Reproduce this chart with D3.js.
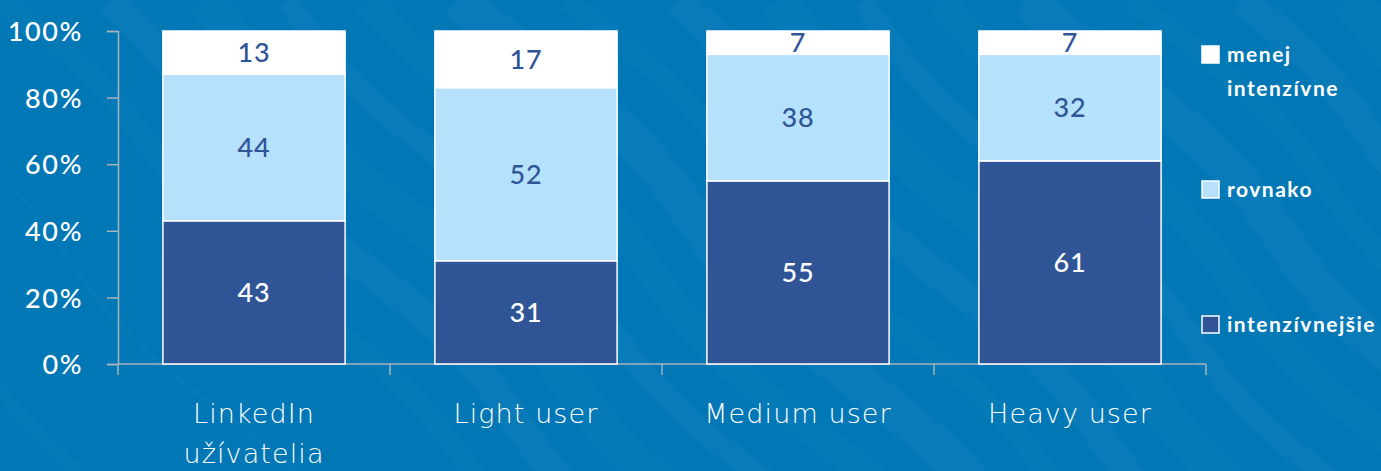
<!DOCTYPE html>
<html>
<head>
<meta charset="utf-8">
<script src="https://cdn.jsdelivr.net/npm/d3@7/dist/d3.min.js"></script>
<style>
  html, body { margin: 0; padding: 0; background: #0277b6; overflow: hidden; }
  svg { display: block; }
</style>
</head>
<body>
<svg id="chart" width="1381" height="471"></svg>
<script>
// Share of respondents per user group (percent)
const categories = [["LinkedIn", "užívatelia"], ["Light user"], ["Medium user"], ["Heavy user"]];
const seriesNames = ["intenzívnejšie", "rovnako", "menej intenzívne"];
const intenzivnejsie = [43, 31, 55, 61];
const rovnako = [44, 52, 38, 32];
const menejIntenzivne = [13, 17, 7, 7];
const yTicks = [0, 20, 40, 60, 80, 100];

const colors = ["#2f5597", "#b5e1fd", "#ffffff"];
const labelColors = ["#ffffff", "#2f5597", "#2f5597"];

const W = 1381, H = 471;
const svg = d3.select("#chart");

// background with soft diagonal waves
svg.append("rect").attr("width", W).attr("height", H).attr("fill", "#0277b6");
const waves = svg.append("g").attr("fill", "none").attr("stroke", "#ffffff");
for (let i = -8; i < 22; i++) {
  const x0 = i * 95;
  const pts = d3.range(0, 12).map(k => [x0 + k * 45 + 18 * Math.sin(k * 0.9 + i), k * 45]);
  waves.append("path")
    .attr("d", d3.line().curve(d3.curveBasis)(pts))
    .attr("stroke-width", 22 + (i % 3) * 8)
    .attr("stroke-opacity", 0.02 + (i % 2) * 0.012);
}

const margin = { left: 118, right: 175, top: 31, bottom: 107 };
const x = d3.scaleBand()
  .domain(d3.range(categories.length))
  .range([margin.left, W - margin.right])
  .paddingInner(0.33).paddingOuter(0.165);
const y = d3.scaleLinear().domain([0, 100]).range([H - margin.bottom, margin.top]);

const rows = categories.map((c, i) => ({
  i, "intenzívnejšie": intenzivnejsie[i], "rovnako": rovnako[i], "menej intenzívne": menejIntenzivne[i]
}));
const stack = d3.stack().keys(seriesNames)(rows);

// axes
const axisColor = "#a9b4bf";
const yAxis = svg.append("g").attr("transform", `translate(${margin.left},0)`)
  .call(d3.axisLeft(y).tickValues(yTicks).tickFormat(d => d + "%").tickSize(11).tickPadding(24));
yAxis.select(".domain").attr("stroke", axisColor).attr("stroke-width", 1.5);
yAxis.selectAll(".tick line").attr("stroke", axisColor).attr("stroke-width", 1.5);
yAxis.selectAll(".tick text")
  .attr("fill", "#ffffff")
  .attr("font-family", "Lato, 'Open Sans', sans-serif")
  .attr("font-weight", 500)
  .attr("font-size", 27)
  .attr("letter-spacing", 1.6)
  .attr("dy", "0.36em");

// x baseline and category separators
const x0 = margin.left, x1 = W - margin.right;
svg.append("line").attr("x1", x0).attr("x2", x1)
  .attr("y1", y(0)).attr("y2", y(0))
  .attr("stroke", axisColor).attr("stroke-width", 1.5);
const step = x.step();
svg.append("g").selectAll("line")
  .data(d3.range(categories.length + 1))
  .join("line")
  .attr("x1", d => x0 + d * step).attr("x2", d => x0 + d * step)
  .attr("y1", y(0)).attr("y2", y(0) + 11)
  .attr("stroke", axisColor).attr("stroke-width", 1.5);

// stacked bars
const layers = svg.append("g").selectAll("g")
  .data(stack).join("g")
  .attr("fill", (d, k) => colors[k]);
layers.selectAll("rect")
  .data(d => d).join("rect")
  .attr("x", d => x(d.data.i))
  .attr("width", x.bandwidth())
  .attr("y", d => y(d[1]))
  .attr("height", d => y(d[0]) - y(d[1]))
  .attr("stroke", "#ffffff")
  .attr("stroke-width", 1.5);

// value labels
stack.forEach((layer, k) => {
  svg.append("g").selectAll("text")
    .data(layer).join("text")
    .attr("x", d => x(d.data.i) + x.bandwidth() / 2)
    .attr("y", d => (y(d[0]) + y(d[1])) / 2)
    .attr("dy", "0.36em")
    .attr("text-anchor", "middle")
    .attr("fill", labelColors[k])
    .attr("font-family", "Lato, 'Open Sans', sans-serif")
    .attr("font-weight", 500)
    .attr("font-size", 27)
    .attr("letter-spacing", 0.8)
    .text(d => d[1] - d[0]);
});

// category labels
const cat = svg.append("g").selectAll("text")
  .data(categories).join("text")
  .attr("x", (d, i) => x(i) + x.bandwidth() / 2)
  .attr("y", 423)
  .attr("text-anchor", "middle")
  .attr("fill", "#ffffff")
  .attr("font-family", "'DejaVu Sans', sans-serif")
  .attr("font-weight", 200)
  .attr("font-size", 27)
  .attr("letter-spacing", 1.1);
cat.selectAll("tspan")
  .data(d => d).join("tspan")
  .attr("x", function () { return this.parentNode.getAttribute("x"); })
  .attr("dy", (d, j) => j === 0 ? 0 : 40)
  .text(d => d);

// legend
const legendItems = [
  { key: "menej intenzívne", lines: ["menej", "intenzívne"], k: 2, y: 46 },
  { key: "rovnako", lines: ["rovnako"], k: 1, y: 181 },
  { key: "intenzívnejšie", lines: ["intenzívnejšie"], k: 0, y: 316 }
];
const lg = svg.append("g").selectAll("g").data(legendItems).join("g");
lg.append("rect")
  .attr("x", 1202).attr("y", d => d.y)
  .attr("width", 17).attr("height", 17)
  .attr("fill", d => colors[d.k])
  .attr("stroke", "#ffffff").attr("stroke-width", 1.5);
lg.append("text")
  .attr("x", 1227).attr("y", d => d.y + 16)
  .attr("fill", "#ffffff")
  .attr("font-family", "Lato, 'Open Sans', sans-serif")
  .attr("font-weight", 700)
  .attr("font-size", 21)
  .attr("letter-spacing", 1.5)
  .selectAll("tspan").data(d => d.lines).join("tspan")
  .attr("x", 1227)
  .attr("dy", (d, j) => j === 0 ? 0 : 34)
  .text(d => d);
</script>
</body>
</html>
